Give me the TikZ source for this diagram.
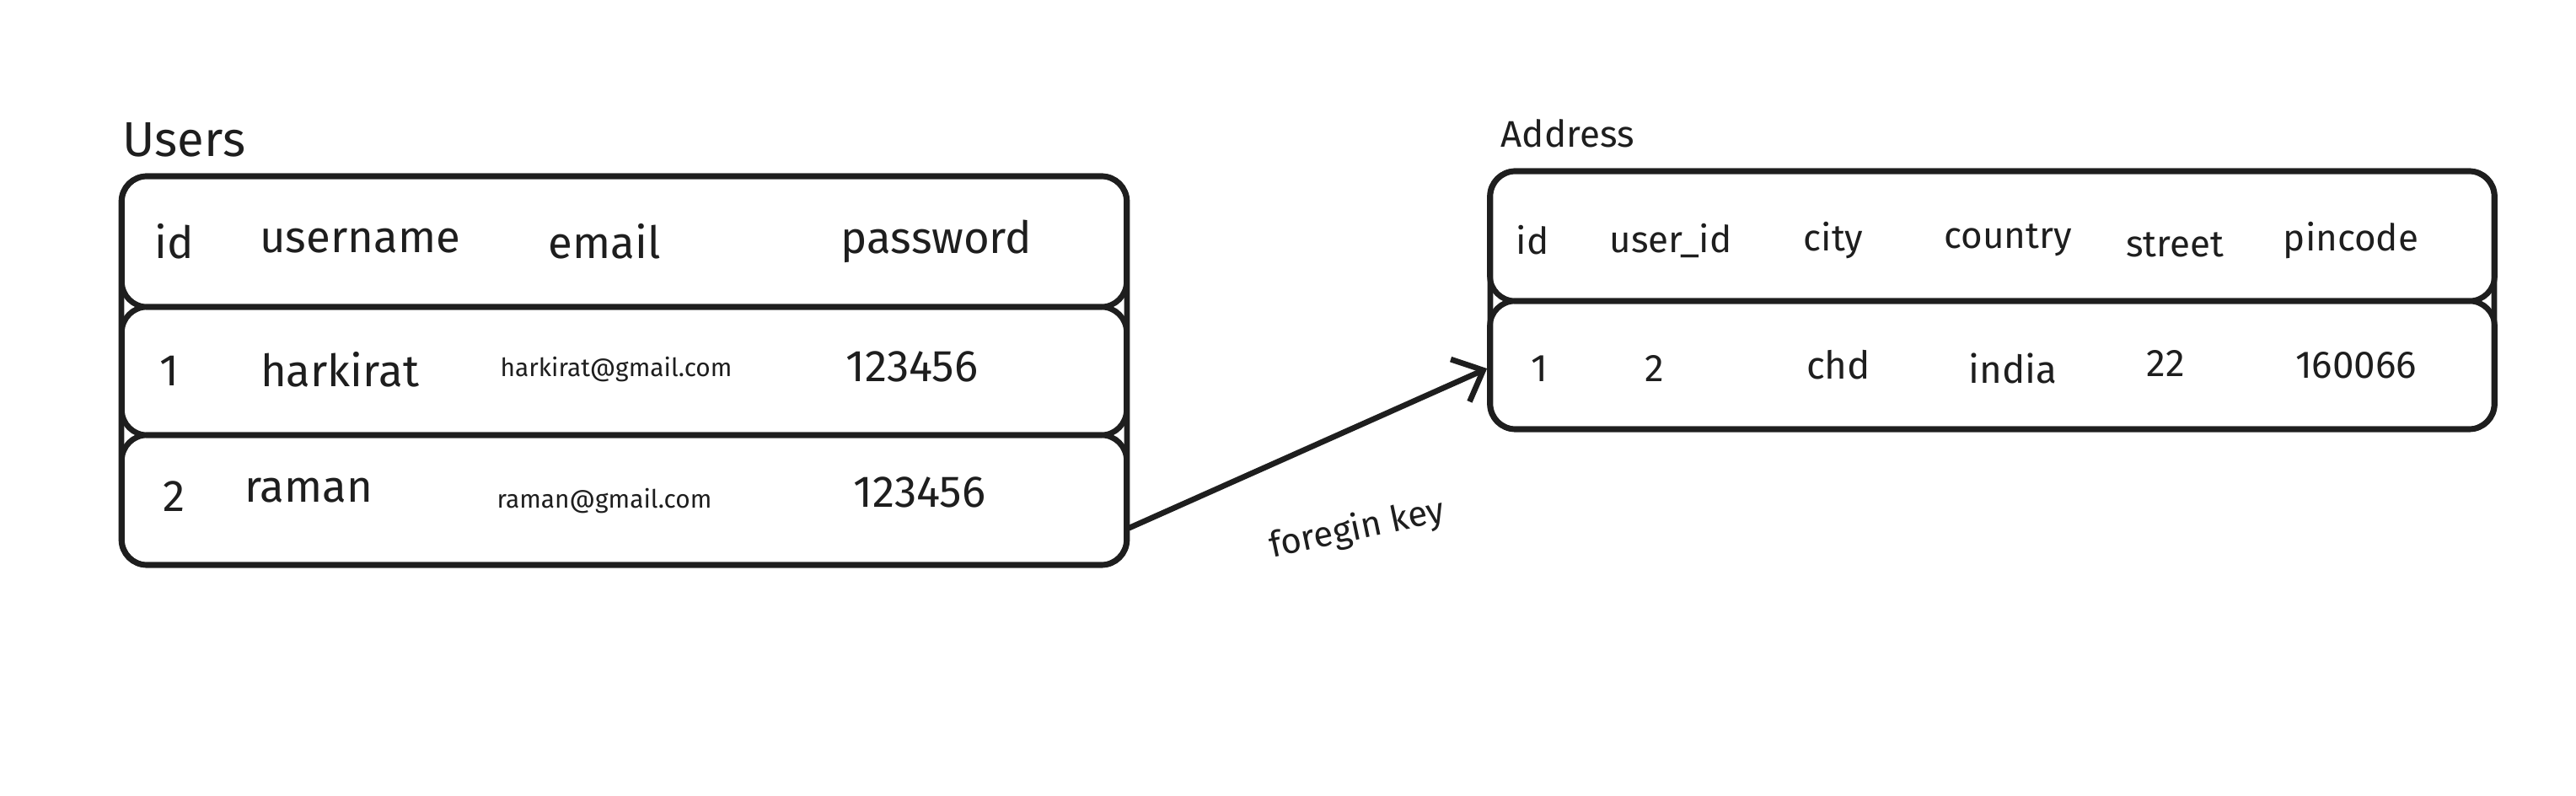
\documentclass[tikz,border=0pt]{standalone}
\usepackage{fontspec}
\setmainfont{Fira Sans}
\usetikzlibrary{arrows.meta}
\definecolor{sketchInk}{RGB}{30,30,30}
\begin{document}
\begin{tikzpicture}[x=1cm,y=1cm,
      title/.style={font=\fontsize{16.5}{19}\selectfont, text=sketchInk,
        anchor=west, inner sep=0pt},
      head/.style={font=\fontsize{15}{17}\selectfont, text=sketchInk},
      cell/.style={font=\fontsize{15}{17}\selectfont, text=sketchInk},
      small/.style={font=\fontsize{8.5}{10}\selectfont, text=sketchInk},
      addrhead/.style={font=\fontsize{12.5}{14}\selectfont, text=sketchInk},
      addrcell/.style={font=\fontsize{13}{15}\selectfont, text=sketchInk},
      tablerow/.style={draw=sketchInk, line width=1.9pt, rounded corners=.3cm,
        minimum width=11.92cm, inner sep=0pt},
      frame/.style={draw=sketchInk, line width=1.9pt, rounded corners=.3cm},
      link/.style={draw=sketchInk, line width=1.9pt, line cap=round,
        -{Straight Barb[length=.3cm,width=.55cm,line width=1.9pt]}}]
      \useasboundingbox (0,0) rectangle (30.56,9.44);
      \fill[white] (0,0) rectangle (30.56,9.44);

      % users table
      \node[title] (usersTitle) at (1.45,7.78) {Users};
      \path[frame] (1.44,2.74) rectangle (13.37,7.35);
      \node[tablerow, minimum height=1.55cm] (urow0) at (7.405,6.575) {};
      \node[tablerow, minimum height=1.52cm] (urow1) at (7.405,5.04) {};
      \node[tablerow, minimum height=1.54cm] (urow2) at (7.405,3.51) {};

      \node[head] at (2.07,6.58) {id};
      \node[head] at (4.27,6.58) {username};
      \node[head] at (7.17,6.58) {email};
      \node[head] at (11.11,6.58) {password};

      \node[cell] at (2.01,5.04) {1};
      \node[cell] at (4.03,5.06) {harkirat};
      \node[small] at (7.31,5.06) {harkirat@gmail.com};
      \node[cell] at (10.82,5.09) {123456};

      \node[cell] at (2.07,3.55) {2};
      \node[cell] at (3.66,3.62) {raman};
      \node[small] at (7.17,3.50) {raman@gmail.com};
      \node[cell] at (10.91,3.60) {123456};

      % address table
      \node[title, font=\fontsize{12.5}{14}\selectfont] (addressTitle)
        at (17.80,7.86) {Address};
      \path[frame] (17.68,4.35) rectangle (29.59,7.41);
      \node[tablerow, minimum height=1.54cm] (arow0) at (23.635,6.64) {};
      \node[tablerow, minimum height=1.52cm] (arow1) at (23.635,5.11) {};

      \node[addrhead] at (18.18,6.59) {id};
      \node[addrhead] at (19.82,6.59) {user\_id};
      \node[addrhead] at (21.75,6.59) {city};
      \node[addrhead] at (23.82,6.59) {country};
      \node[addrhead] at (25.80,6.54) {street};
      \node[addrhead] at (27.89,6.59) {pincode};

      \node[addrcell] at (18.26,5.07) {1};
      \node[addrcell] at (19.63,5.07) {2};
      \node[addrcell] at (21.81,5.11) {chd};
      \node[addrcell] at (23.88,5.07) {india};
      \node[addrcell] at (25.69,5.13) {22};
      \node[addrcell] at (27.95,5.11) {160066};

      % foreign key link
      \draw[link] ([yshift=-.33cm]urow2.east) -- ([yshift=-.04cm]arow1.west);
      \node[font=\fontsize{12}{14}\selectfont, text=sketchInk, rotate=12]
        (fkLabel) at (16.10,3.16) {foregin key};
    \end{tikzpicture}
\end{document}
